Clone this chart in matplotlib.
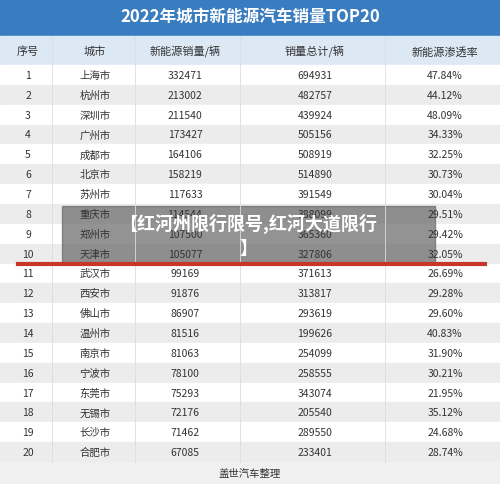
import matplotlib
matplotlib.use("Agg")
import matplotlib.pyplot as plt
from matplotlib.patches import Rectangle

plt.rcParams['font.family'] = ['Noto Sans CJK SC', 'DejaVu Sans']

title = "2022年城市新能源汽车销量TOP20"
headers = ["序号", "城市", "新能源销量/辆", "销量总计/辆", "新能源渗透率"]
ranks = list(range(1, 21))
cities = ["上海市", "杭州市", "深圳市", "广州市", "成都市", "北京市", "苏州市", "重庆市", "郑州市", "天津市",
          "武汉市", "西安市", "佛山市", "温州市", "南京市", "宁波市", "东莞市", "无锡市", "长沙市", "合肥市"]
nev_sales = [332471, 213002, 211540, 173427, 164106, 158219, 117633, 114544, 107500, 105077,
             99169, 91876, 86907, 81516, 81063, 78100, 75293, 72176, 71462, 67085]
total_sales = [694931, 482757, 439924, 505156, 508919, 514890, 391549, 388099, 365360, 327806,
               371613, 313817, 293619, 199626, 254099, 258555, 343074, 205540, 289550, 233401]
penetration = ["47.84%", "44.12%", "48.09%", "34.33%", "32.25%", "30.73%", "30.04%", "29.51%", "29.42%", "32.05%",
               "26.69%", "29.28%", "29.60%", "40.83%", "31.90%", "30.21%", "21.95%", "35.12%", "24.68%", "28.74%"]
overlay = "【红河州限行限号,红河大道限行\n】"
footer = "盖世汽车整理"

fig = plt.figure(figsize=(5.0, 4.85), dpi=100)
ax = fig.add_axes([0, 0, 1, 1])
ax.set_xlim(0, 500); ax.set_ylim(485, 0); ax.axis('off')
fig.patch.set_facecolor('#f4f4f4')

ax.add_patch(Rectangle((0, 0), 500, 37, color='#3a7cc0'))
ax.text(250, 18, title, ha='center', va='center', color='white', fontsize=12, fontweight='bold')
ax.add_patch(Rectangle((0, 37), 500, 29, color='#dce8f4'))
xs = [28, 95, 185, 315, 445]
for x, h in zip(xs, headers):
    ax.text(x, 52, h, ha='center', va='center', fontsize=8, color='#333333')

y0, rh = 66, 19.85
for i in range(20):
    top = y0 + i * rh
    ax.add_patch(Rectangle((0, top), 500, rh, color='#ffffff' if i % 2 == 0 else '#ececec'))
    yc = top + rh / 2
    vals = [str(ranks[i]), cities[i], str(nev_sales[i]), str(total_sales[i]), penetration[i]]
    for x, v in zip(xs, vals):
        ax.text(x, yc, v, ha='center', va='center', fontsize=7.5, color='#333333')
for xv in [52, 135, 240, 385]:
    ax.plot([xv, xv], [37, y0 + 20 * rh], color='#dddddd', lw=0.6)
ax.plot([18, 485], [265, 265], color='#c8352a', lw=3)

ax.add_patch(Rectangle((62, 207), 373, 58, color='#666666', alpha=0.7))
ax.text(248, 236, overlay, ha='center', va='center', color='white', fontsize=13,
        fontweight='bold', linespacing=1.3)

ax.add_patch(Rectangle((0, y0 + 20 * rh), 500, 485 - (y0 + 20 * rh), color='#f0f0f0'))
ax.text(250, 474, footer, ha='center', va='center', fontsize=7.5, color='#333333')

fig.savefig("out.png", dpi=100)
